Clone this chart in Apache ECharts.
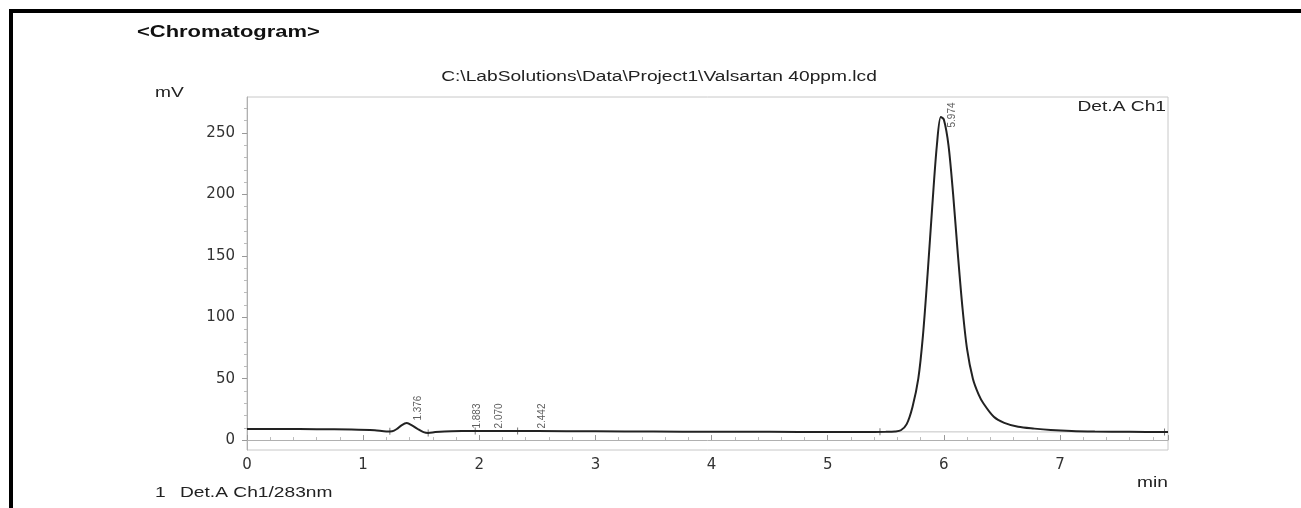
<!DOCTYPE html>
<html><head><meta charset="utf-8">
<script src="https://cdn.jsdelivr.net/npm/echarts@6/dist/echarts.min.js"></script>
<style>html,body{margin:0;padding:0;background:#fff}#c{width:1301px;height:508px}</style>
</head><body><div id="c"></div>
<script>
// retention time (min)
const times = [0, 0.3, 0.6, 0.9, 1.1, 1.2, 1.25, 1.29, 1.33, 1.376, 1.42, 1.47, 1.52, 1.56, 1.62, 1.7, 1.85, 2.0, 2.2, 2.5, 3.0, 3.5, 4.0, 4.5, 5.0, 5.3, 5.5, 5.58, 5.63, 5.68, 5.73, 5.78, 5.82, 5.86, 5.90, 5.94, 5.974, 6.00, 6.04, 6.08, 6.12, 6.16, 6.20, 6.25, 6.30, 6.34, 6.43, 6.52, 6.64, 6.78, 6.92, 7.1, 7.3, 7.6, 7.93];
// detector signal (mV)
const signal = [9.0, 9.0, 8.8, 8.6, 8.0, 7.0, 7.2, 9.0, 12.0, 13.8, 12.0, 9.0, 6.5, 5.8, 6.5, 7.0, 7.3, 7.4, 7.4, 7.3, 7.1, 6.9, 6.8, 6.7, 6.6, 6.6, 6.7, 7.0, 8.0, 13, 27, 50, 85, 135, 190, 240, 263, 261, 240, 200, 152, 108, 74, 50, 37, 30, 19, 14, 10.8, 9.3, 8.2, 7.4, 7.0, 6.7, 6.5];

const peakTimes = [1.376, 1.883, 2.070, 2.442, 5.974];
const peakHeights = [13.8, 7.3, 7.4, 7.3, 263];
const peakLabels = ['1.376', '1.883', '2.070', '2.442', '5.974'];

const markTimes = [1.23, 1.56, 1.965, 2.33, 5.45, 7.90];
const markValues = [7.1, 5.8, 7.4, 7.4, 6.7, 6.5];

const baselineTimes = [5.45, 7.90];
const baselineValues = [6.7, 6.5];

const yTicks = [0, 50, 100, 150, 200, 250];
const yMinorTicks = [10, 20, 30, 40, 60, 70, 80, 90, 110, 120, 130, 140, 160, 170, 180, 190, 210, 220, 230, 240, 260, 270];

const chart = echarts.init(document.getElementById('c'));
const SX = 1.37;
const txt = (x, y, text, align, font, fill) => ({
  type: 'text', x: x, y: y, scaleX: SX, silent: true,
  style: { text: text, font: font || '14px "Liberation Sans", Arial', fill: fill || '#222', textAlign: align, textVerticalAlign: 'middle' }
});

chart.setOption({
  animation: false,
  backgroundColor: '#fff',
  grid: { left: 247, right: 133, top: 97, bottom: 58, show: true, borderColor: '#c8c8c8', borderWidth: 1 },
  xAxis: {
    type: 'value', min: 0, max: 7.93, interval: 1,
    axisLine: { show: true, lineStyle: { color: '#b0b0b0' } },
    axisTick: { show: true, inside: true, length: 5, lineStyle: { color: '#999' } },
    minorTick: { show: true, splitNumber: 5, length: 3, lineStyle: { color: '#bbb' } },
    axisLabel: { margin: 8, fontFamily: '"DejaVu Sans"', fontSize: 15, color: '#333', showMaxLabel: false },
    splitLine: { show: false }
  },
  yAxis: [{
    type: 'value', min: -8.1, max: 279.3,
    axisLine: { show: true, lineStyle: { color: '#b0b0b0' } },
    axisTick: { show: true, length: 5, customValues: yTicks, lineStyle: { color: '#999' } },
    axisLabel: { margin: 12, customValues: yTicks, fontFamily: '"DejaVu Sans"', fontSize: 15, color: '#333' },
    splitLine: { show: false }
  }, {
    type: 'value', min: -8.1, max: 279.3, position: 'left',
    axisLine: { show: false },
    axisTick: { show: true, length: 3, customValues: yMinorTicks, lineStyle: { color: '#bbb' } },
    axisLabel: { show: false },
    splitLine: { show: false }
  }],
  series: [{
    type: 'line', name: 'baseline', silent: true, symbol: 'none',
    data: baselineTimes.map((t, i) => [t, baselineValues[i]]),
    lineStyle: { color: '#c4c4c4', width: 1 }
  }, {
    type: 'line', name: 'Det.A Ch1', silent: true, symbol: 'none', smooth: 0.3,
    data: times.map((t, i) => [t, signal[i]]),
    lineStyle: { color: '#222', width: 2 }
  }, {
    type: 'scatter', silent: true, symbol: 'rect', symbolSize: [1, 7],
    data: markTimes.map((t, i) => [t, markValues[i]]),
    itemStyle: { color: '#555' }
  }, {
    type: 'scatter', silent: true, symbolSize: 1,
    itemStyle: { color: 'rgba(0,0,0,0)' },
    data: peakTimes.map((t, i) => ({
      value: [t, peakHeights[i]],
      label: { position: [12, peakHeights[i] > 100 ? 11 : -2] }
    })),
    label: {
      show: true, rotate: 90, align: 'left', verticalAlign: 'middle',
      formatter: p => peakLabels[p.dataIndex],
      fontFamily: '"Liberation Sans", Arial', fontSize: 10, color: '#333'
    }
  }],
  graphic: [
    { type: 'rect', silent: true, shape: { x: 9, y: 9, width: 1292, height: 4 }, style: { fill: '#000' } },
    { type: 'rect', silent: true, shape: { x: 9, y: 9, width: 4, height: 499 }, style: { fill: '#000' } },
    txt(137, 33, '<Chromatogram>', 'left', 'bold 16px "Liberation Sans", Arial', '#111'),
    txt(155, 93, 'mV', 'left'),
    txt(659, 77, 'C:\\LabSolutions\\Data\\Project1\\Valsartan 40ppm.lcd', 'center'),
    txt(1166, 107, 'Det.A Ch1', 'right'),
    txt(1168, 483, 'min', 'right'),
    txt(155, 493, '1', 'left'),
    txt(180, 493, 'Det.A Ch1/283nm', 'left')
  ]
});
</script>
</body></html>
